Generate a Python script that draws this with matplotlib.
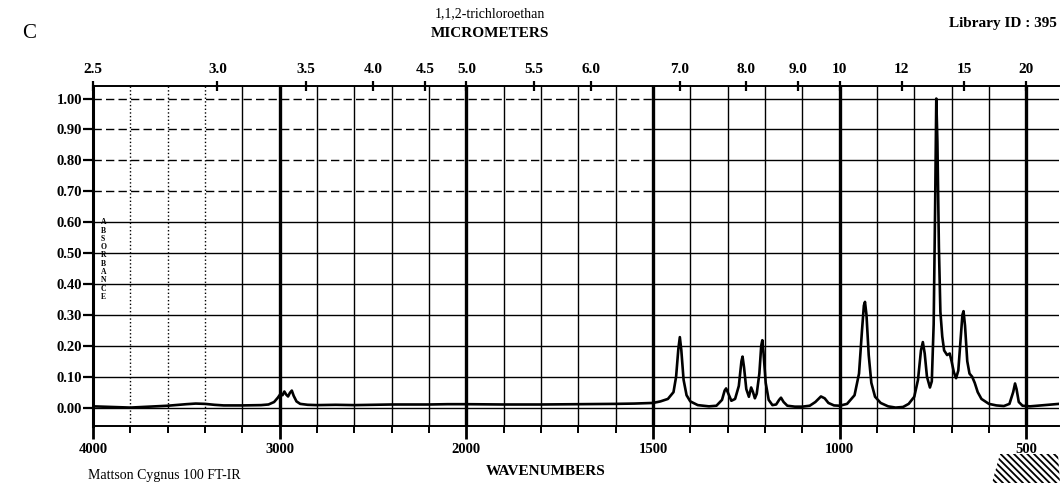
import numpy as np
import matplotlib
matplotlib.use("Agg")
import matplotlib.pyplot as plt
from matplotlib.patches import Polygon

plt.rcParams['font.family'] = ['Liberation Serif', 'DejaVu Serif']
plt.rcParams['hatch.linewidth'] = 1.3

# spectrum: wavenumber (cm-1) and absorbance
wn = [4000, 3900, 3800, 3700, 3600, 3500, 3450, 3400, 3350, 3300, 3200, 3100,
      3060, 3030, 3010, 2995, 2985, 2975, 2965, 2955, 2945, 2935, 2925, 2910,
      2890, 2850, 2800, 2700, 2600, 2500, 2400, 2300, 2200, 2100, 2000, 1900,
      1800, 1700, 1600, 1550, 1500, 1480, 1460, 1445, 1438, 1432, 1428, 1424,
      1418, 1410, 1400, 1380, 1350, 1330, 1315, 1308, 1304, 1299, 1290, 1280,
      1270, 1263, 1260, 1256, 1250, 1243, 1237, 1232, 1227, 1222, 1215, 1210,
      1207, 1204, 1198, 1190, 1180, 1170, 1162, 1157, 1150, 1140, 1120, 1100,
      1080, 1065, 1050, 1040, 1030, 1015, 1000, 980, 960, 948, 940, 935, 932,
      928, 922, 915, 905, 890, 870, 850, 830, 815, 800, 790, 782, 777, 772,
      766, 758, 753, 748, 744, 741, 738, 734, 730, 725, 720, 712, 705, 700,
      694, 688, 682, 676, 671, 668, 664, 658, 652, 645, 638, 630, 620, 600,
      580, 560, 545, 535, 530, 526, 520, 510, 490, 470, 450, 430, 412]
absb = [0.004, 0.002, 0.000, 0.003, 0.006, 0.011, 0.013, 0.012, 0.009, 0.007,
        0.007, 0.008, 0.010, 0.018, 0.032, 0.045, 0.040, 0.052, 0.042, 0.036,
        0.048, 0.055, 0.038, 0.020, 0.012, 0.009, 0.008, 0.009, 0.008, 0.009,
        0.010, 0.010, 0.010, 0.011, 0.011, 0.010, 0.010, 0.011, 0.012, 0.013,
        0.015, 0.020, 0.028, 0.050, 0.100, 0.190, 0.228, 0.185, 0.090, 0.040,
        0.020, 0.008, 0.004, 0.006, 0.025, 0.055, 0.062, 0.048, 0.022, 0.028,
        0.070, 0.150, 0.165, 0.130, 0.060, 0.035, 0.065, 0.050, 0.030, 0.045,
        0.110, 0.200, 0.218, 0.180, 0.080, 0.025, 0.008, 0.010, 0.025, 0.032,
        0.018, 0.006, 0.003, 0.003, 0.006, 0.018, 0.036, 0.030, 0.015, 0.007,
        0.006, 0.012, 0.040, 0.110, 0.250, 0.330, 0.342, 0.300, 0.170, 0.080,
        0.035, 0.015, 0.004, 0.000, 0.002, 0.012, 0.035, 0.090, 0.185, 0.212,
        0.175, 0.100, 0.065, 0.085, 0.270, 0.660, 1.000, 0.860, 0.520, 0.310,
        0.230, 0.185, 0.170, 0.175, 0.150, 0.115, 0.095, 0.120, 0.220, 0.300,
        0.312, 0.265, 0.150, 0.110, 0.100, 0.080, 0.050, 0.028, 0.012, 0.007,
        0.005, 0.012, 0.050, 0.078, 0.060, 0.018, 0.006, 0.004, 0.006, 0.008,
        0.010, 0.012]

abs_ticks = [0.0, 0.1, 0.2, 0.3, 0.4, 0.5, 0.6, 0.7, 0.8, 0.9, 1.0]
wn_labels = [4000, 3000, 2000, 1500, 1000, 500]
mic_labels = ["2.5", "3.0", "3.5", "4.0", "4.5", "5.0", "5.5", "6.0", "7.0",
              "8.0", "9.0", "10", "12", "15", "20"]
grid_hi = [3800, 3600, 3400, 3200, 3000, 2800, 2600, 2400, 2200]
grid_lo = list(range(1900, 400, -100))


# chart paper: 1000 cm-1 per unit above 2000, 500 cm-1 per unit below
def fwd(w):
    w = np.asarray(w, dtype=float)
    return np.where(w >= 2000, (w - 4000) / 2.0, w - 3000)


def inv(u):
    u = np.asarray(u, dtype=float)
    return np.where(u >= -1000, 4000 + 2.0 * u, u + 3000)


fig = plt.figure(figsize=(10.61, 4.87), dpi=100)
ax = fig.add_axes([0.0877, 0.125, 0.9105, 0.698])
ax.set_xscale('function', functions=(fwd, inv))
ax.set_xlim(4000, 412)
ax.set_ylim(-0.06, 1.04)

# chart paper grid
for w in grid_hi + grid_lo:
    if w in (3000, 2000, 1500, 1000, 500):
        continue
    ls = ':' if w > 3200 else '-'
    ax.axvline(w, color='black', lw=1.0, ls=ls, zorder=1)
for w in (3000, 2000, 1500, 1000, 500):
    ax.axvline(w, color='black', lw=2.4, zorder=1)
for v in abs_ticks:
    if v >= 0.7:
        ax.hlines(v, 4000, 1500, color='black', lw=1.0, ls=(0, (6, 3)), zorder=1)
        ax.hlines(v, 1500, 412, color='black', lw=1.0, zorder=1)
    else:
        ax.axhline(v, color='black', lw=1.0, zorder=1)

ax.plot(wn, absb, color='black', lw=1.9, zorder=3)

for s in ax.spines.values():
    s.set_linewidth(1.4)
ax.spines['left'].set_linewidth(2.2)
ax.spines['right'].set_visible(False)

ax.set_yticks(abs_ticks)
ax.set_yticklabels(["%.2f" % v for v in abs_ticks], fontweight='bold')
ax.tick_params(axis='y', direction='out', length=7, width=1.6, labelsize=10.5, pad=1)
ax.set_xticks(wn_labels)
ax.set_xticklabels([str(w) for w in wn_labels], fontweight='bold')
ax.set_xticks(grid_hi + grid_lo, minor=True)
ax.tick_params(axis='x', which='major', direction='out', length=9, width=2,
               labelsize=10.5, pad=3)
ax.tick_params(axis='x', which='minor', direction='out', length=5, width=1.4)

ax.text(0.008, 0.49, "\n".join("ABSORBANCE"), transform=ax.transAxes,
        fontsize=5.5, linespacing=1.05, ha='left', va='center', fontweight='bold')

ax2 = ax.twiny()
ax2.set_xscale('function', functions=(fwd, inv))
ax2.set_xlim(ax.get_xlim())
ax2.set_xticks([10000.0 / float(m) for m in mic_labels])
ax2.set_xticklabels(mic_labels, fontweight='bold')
ax2.tick_params(axis='x', direction='inout', length=7, width=1.6,
                labelsize=11, pad=4)
ax2.set_xticks([], minor=True)
for s in ax2.spines.values():
    s.set_visible(False)

fig.text(0.021, 0.932, "C", fontsize=15, ha='left', va='center')
fig.text(0.462, 0.971, "1,1,2-trichloroethan", fontsize=10, ha='center', va='center')
fig.text(0.462, 0.932, "MICROMETERS", fontsize=11, ha='center', va='center',
         fontweight='bold')
fig.text(0.996, 0.951, "Library ID : 395", fontsize=11, ha='right', va='center',
         fontweight='bold')
fig.text(0.514, 0.031, "WAVENUMBERS", fontsize=11, ha='center', va='center',
         fontweight='bold')
fig.text(0.083, 0.023, "Mattson Cygnus 100 FT-IR", fontsize=10, ha='left', va='center')

# hatched maker's mark in the lower right corner
logo = Polygon([(992 / 1061, 4 / 487), (1060 / 1061, 4 / 487),
                (1058 / 1061, 33 / 487), (1000 / 1061, 33 / 487)],
               closed=True, transform=fig.transFigure, facecolor='white',
               edgecolor='black', hatch='\\\\\\\\\\', lw=0)
fig.add_artist(logo)

fig.savefig("out.png", dpi=100)
